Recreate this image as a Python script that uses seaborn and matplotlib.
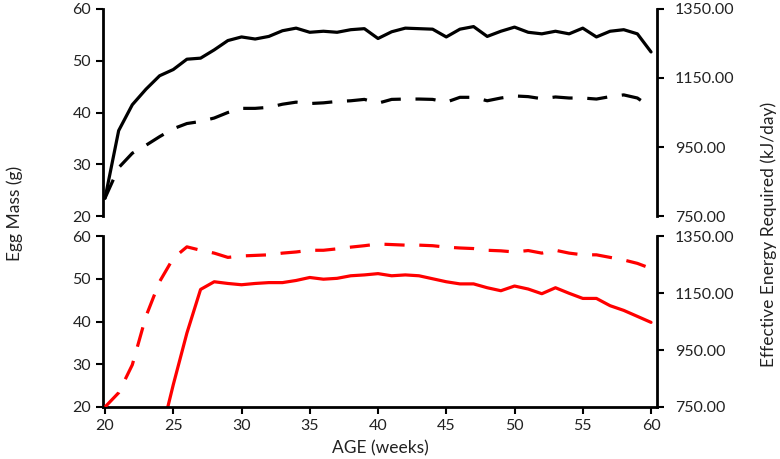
import numpy as np
import pandas as pd
import matplotlib
matplotlib.use("Agg")
import matplotlib.pyplot as plt
import seaborn as sns

# Weeks of age
weeks = list(range(20, 61))

# Top panel (black): egg mass (g) and effective energy (kJ/day)
black_mass = [23.4, 36.5, 41.5, 44.5, 47.1, 48.3, 50.3, 50.5, 52.1, 53.9,
              54.6, 54.2, 54.7, 55.8, 56.3, 55.5, 55.7, 55.5, 56.0, 56.2,
              54.3, 55.6, 56.3, 56.2, 56.1, 54.6, 56.1, 56.6, 54.7, 55.7,
              56.5, 55.5, 55.2, 55.7, 55.2, 56.3, 54.6, 55.7, 56.0, 55.2,
              51.7]
black_energy = [802, 890, 932, 955, 980, 1003, 1018, 1024, 1034, 1050,
                1062, 1062, 1065, 1074, 1080, 1076, 1078, 1082, 1084, 1088,
                1077, 1088, 1089, 1089, 1088, 1080, 1094, 1094, 1084, 1092,
                1098, 1096, 1090, 1095, 1092, 1092, 1089, 1096, 1101, 1092,
                1065]

# Bottom panel (red)
red_mass = [0, 0, 0, 0, 12.2, 25.2, 37.3, 47.5, 49.3, 48.9,
            48.6, 48.9, 49.1, 49.1, 49.6, 50.3, 49.9, 50.1, 50.7, 50.9,
            51.2, 50.7, 50.9, 50.7, 50.0, 49.3, 48.8, 48.8, 47.9, 47.2,
            48.3, 47.6, 46.5, 47.9, 46.6, 45.4, 45.4, 43.7, 42.6, 41.2,
            39.8]
red_energy = [750, 800, 898, 1068, 1190, 1272, 1312, 1300, 1290, 1275,
              1280, 1282, 1284, 1290, 1294, 1300, 1300, 1305, 1311, 1316,
              1322, 1320, 1318, 1318, 1316, 1311, 1308, 1306, 1300, 1298,
              1294, 1299, 1290, 1300, 1290, 1284, 1284, 1275, 1266, 1254,
              1236]

df = pd.DataFrame({'week': weeks,
                   'black_mass': black_mass, 'black_energy': black_energy,
                   'red_mass': red_mass, 'red_energy': red_energy})

sns.set_theme(style="ticks")
plt.rcParams['font.family'] = ['Lato', 'DejaVu Sans']

fig = plt.figure(figsize=(7.8, 4.59), dpi=100)
ax_top = fig.add_axes([0.132, 0.5294, 0.710, 0.4510])
ax_bot = fig.add_axes([0.132, 0.1133, 0.710, 0.3725])

lw = 2.3

panels = [(ax_top, 'black', 'black_mass', 'black_energy'),
          (ax_bot, '#FF0000', 'red_mass', 'red_energy')]

for ax, col, mcol, ecol in panels:
    sns.lineplot(data=df, x='week', y=mcol, ax=ax, color=col, linewidth=lw)
    ax2 = ax.twinx()
    sns.lineplot(data=df, x='week', y=ecol, ax=ax2, color=col, linewidth=lw)
    for ln in ax2.lines:
        ln.set_dashes([6.3, 4.6])
        ln.set_dash_capstyle('butt')
    ax.set_xlim(19.85, 60.42)
    ax.set_ylim(20, 60)
    ax.set_yticks([20, 30, 40, 50, 60])
    ax2.set_ylim(750, 1350)
    ax2.set_yticks([750, 950, 1150, 1350])
    ax2.set_yticklabels([f"{v:.2f}" for v in [750, 950, 1150, 1350]])
    ax.set_xlabel('')
    ax.set_ylabel('')
    ax2.set_ylabel('')
    for a in (ax, ax2):
        a.spines['top'].set_visible(False)
        a.tick_params(labelsize=11.5, width=1.5, length=5, color='black',
                      labelcolor='#222222')
        for s in a.spines.values():
            s.set_linewidth(2)
            s.set_color('black')
    ax2.tick_params(axis='y', pad=8)
    ax2.spines['left'].set_visible(False)
    ax.spines['right'].set_visible(False)
    ax2.spines['bottom'].set_visible(False)

ax_top.spines['bottom'].set_visible(False)
ax_top.set_xticks([])
ax_bot.set_xticks(range(20, 61, 5))

fig.text(0.019, 0.535, 'Egg Mass (g)', rotation=90, ha='center', va='center',
         fontsize=12.5, color='#222222')
fig.text(0.985, 0.49, 'Effective Energy Required (kJ/day)', rotation=90,
         ha='center', va='center', fontsize=12.5, color='#222222')
fig.text(0.488, 0.024, 'AGE (weeks)', ha='center', va='center',
         fontsize=12.5, color='#222222')

fig.savefig('out.png', dpi=100)
